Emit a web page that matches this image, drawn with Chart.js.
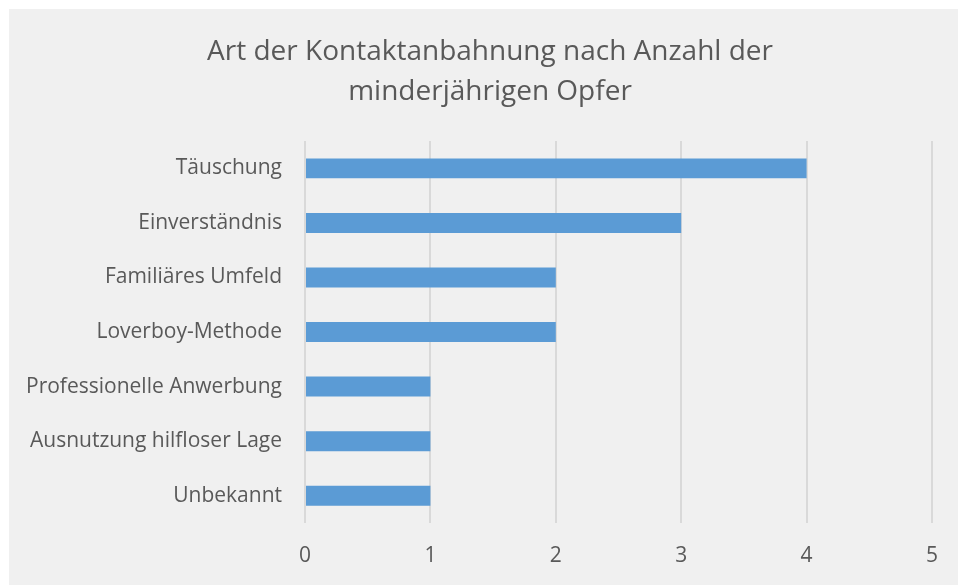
<!DOCTYPE html>
<html>
<head>
<meta charset="utf-8">
<script src="https://cdn.jsdelivr.net/npm/chart.js@4"></script>
<style>
  html, body { margin: 0; padding: 0; background: #ffffff; }
  #wrap { position: absolute; left: 9px; top: 9px; width: 949px; height: 576px; background: #f0f0f0; }
</style>
</head>
<body>
<div id="wrap"><canvas id="chart" width="949" height="576"></canvas></div>
<script>
// chart data
var categories = ['Täuschung', 'Einverständnis', 'Familiäres Umfeld', 'Loverboy-Methode',
                  'Professionelle Anwerbung', 'Ausnutzung hilfloser Lage', 'Unbekannt'];
var victims = [4, 3, 2, 2, 1, 1, 1];
var xTicks = [0, 1, 2, 3, 4, 5];

var textGrey = '#595959';
var fontName = '"Open Sans", "Noto Sans", sans-serif';

// left padding only moves the title to the right; let the long category labels use it
var labelRoom = {
    id: 'labelRoom',
    afterLayout: function (chart) {
        chart.scales.y.left = 0;
    }
};

var config = {
    type: 'bar',
    data: {
        labels: categories,
        datasets: [{
            label: 'Anzahl',
            data: victims,
            backgroundColor: '#5b9bd5',
            borderWidth: 0,
            categoryPercentage: 1,
            barPercentage: 0.366
        }]
    },
    options: {
        indexAxis: 'y',
        responsive: false,
        animation: false,
        layout: { padding: { left: 34, right: 21, top: 0, bottom: 0 } },
        plugins: {
            legend: { display: false },
            tooltip: { enabled: false },
            title: {
                display: true,
                text: ['Art der Kontaktanbahnung nach Anzahl der', 'minderjährigen Opfer'],
                color: textGrey,
                font: { family: fontName, size: 28, weight: 'normal', lineHeight: 1.43 },
                padding: { top: 23, bottom: 29 }
            }
        },
        scales: {
            x: {
                min: 0,
                max: 5,
                afterBuildTicks: function (axis) {
                    axis.ticks = xTicks.map(function (v) { return { value: v }; });
                },
                afterFit: function (axis) { axis.height = 62; },
                grid: { color: '#d9d9d9', lineWidth: 2, drawTicks: false },
                border: { display: false },
                ticks: {
                    color: textGrey,
                    padding: 20,
                    font: { family: fontName, size: 21 }
                }
            },
            y: {
                afterFit: function (axis) { axis.width = 262; },
                grid: { display: false, drawTicks: false },
                border: { display: false },
                ticks: {
                    color: textGrey,
                    padding: 23,
                    font: { family: fontName, size: 21 }
                }
            }
        }
    },
    plugins: [labelRoom]
};

var ctx = document.getElementById('chart');
window.myBar = new Chart(ctx, config);
</script>
</body>
</html>
